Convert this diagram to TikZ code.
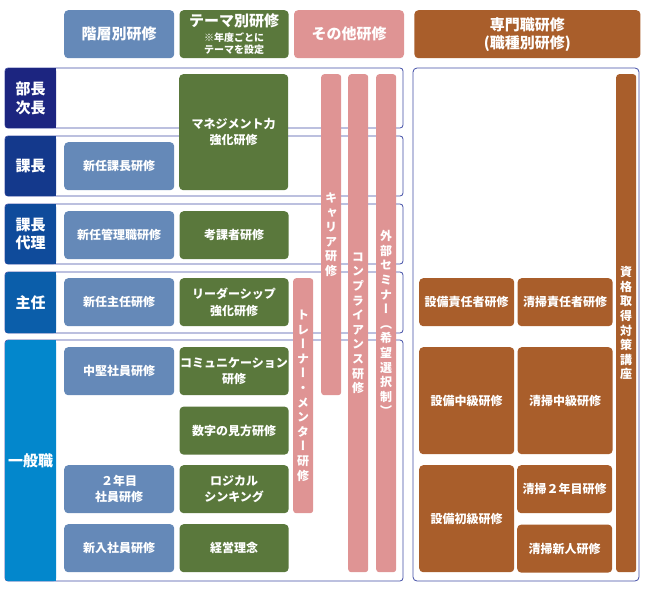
\documentclass[tikz,border=0pt]{standalone}
\usepackage{fontspec}
\setmainfont{Noto Sans CJK JP}
\newfontfamily\tatefont{Noto Sans CJK JP}[RawFeature=+vert]
\usetikzlibrary{positioning}
\definecolor{kaisoblue}{RGB}{101,137,184}
\definecolor{themegreen}{RGB}{90,120,60}
\definecolor{sonotapink}{RGB}{223,148,148}
\definecolor{senmonbrown}{RGB}{169,94,43}
\definecolor{bandline}{RGB}{64,76,165}
\definecolor{buchoc}{RGB}{28,37,128}
\definecolor{kachoc}{RGB}{20,57,140}
\definecolor{dairic}{RGB}{15,75,155}
\definecolor{shuninc}{RGB}{11,94,170}
\definecolor{ippanc}{RGB}{3,135,204}
\tikzset{
        box/.style={rounded corners=4pt, text=white, align=center, inner sep=0pt,
                font=\bfseries\fontsize{12}{16.5}\selectfont}, % white text on a filled box
        kaiso/.style={box, fill=kaisoblue, minimum width=110pt, minimum height=48pt},
        theme/.style={box, fill=themegreen, minimum width=109pt, minimum height=48pt},
        senmon/.style={box, fill=senmonbrown, minimum width=95pt, minimum height=48pt},
        bar/.style={box, fill=sonotapink, rounded corners=3pt, minimum width=20pt,
                font=\tatefont\bfseries\fontsize{12}{14.6}\selectfont}, % vertical text, one glyph per line
        header/.style={box, minimum height=48pt, font=\bfseries\fontsize{15}{18}\selectfont},
        rank/.style={box, rounded corners=3pt, minimum width=51pt, font=\bfseries\fontsize{15}{18.5}\selectfont},
        band/.style={draw=bandline, line width=0.8pt, rounded corners=3pt},
        }
\begin{document}
\begin{tikzpicture}[x=1pt, y=-1pt]
        \useasboundingbox (0,0) rectangle (647,591);
        % headers
        \node[header, fill=kaisoblue, minimum width=110pt, anchor=north west] (hKaiso) at (64,10) {階層別研修};
        \node[header, fill=themegreen, minimum width=109pt, right=5pt of hKaiso] (hTheme)
                {テーマ別研修\\[-3pt]{\fontsize{10}{12}\selectfont ※年度ごとに}\\[-6pt]{\fontsize{10}{12}\selectfont テーマを設定}};
        \node[header, fill=sonotapink, minimum width=110pt, right=5pt of hTheme] (hSonota) {その他研修};
        \node[header, fill=senmonbrown, minimum width=226pt, right=10pt of hSonota] (hSenmon) {専門職研修\\(職種別研修)};

        % bands of the ranks
        \foreach \ya/\yb/\c in {68/128/buchoc, 136/196/kachoc, 204/264/dairic, 272/333/shuninc, 340/581/ippanc} {
                \draw[band] (5,\ya) rectangle (403,\yb);
                \fill[\c] (30,\ya) rectangle (56,\yb);
        }
        \draw[band, rounded corners=4pt] (413,68) rectangle (639,581);

        \node[rank, fill=buchoc, minimum height=60pt, anchor=north west] (bucho) at (5,68) {部長\\次長};
        \node[rank, fill=kachoc, minimum height=60pt, anchor=north west] (kacho) at (5,136) {課長};
        \node[rank, fill=dairic, minimum height=60pt, anchor=north west] (dairi) at (5,204) {課長\\代理};
        \node[rank, fill=shuninc, minimum height=61pt, anchor=north west] (shunin) at (5,272) {主任};
        \node[rank, fill=ippanc, minimum height=241pt, anchor=north west] (ippan) at (5,340) {一般職};

        % kaisobetsu
        \node[kaiso, anchor=north west] (shinKacho) at (64,142) {新任課長研修};
        \node[kaiso, anchor=north west] (shinKanri) at (64,211) {新任管理職研修};
        \node[kaiso, anchor=north west] (shinShunin) at (64,278) {新任主任研修};
        \node[kaiso, anchor=north west] (chuken) at (64,347) {中堅社員研修};
        \node[kaiso, anchor=north west] (nenme) at (64,465) {２年目\\社員研修};
        \node[kaiso, anchor=north west] (shinnyu) at (64,524) {新入社員研修};

        % themebetsu
        \node[theme, minimum height=116pt, anchor=north west] (manage) at (179,74) {マネジメント力\\強化研修};
        \node[theme, right=5pt of shinKanri] (koka) {考課者研修};
        \node[theme, right=5pt of shinShunin] (leader) {リーダーシップ\\強化研修};
        \node[theme, right=5pt of chuken] (comm) {コミュニケーション\\研修};
        \node[theme, below=11pt of comm] (suji) {数字の見方研修};
        \node[theme, right=5pt of nenme] (logical) {ロジカル\\シンキング};
        \node[theme, right=5pt of shinnyu] (rinen) {経営理念};

        % sonota
        \node[bar, minimum height=321pt, anchor=north west] (career) at (321,74) {キ\\ャ\\リ\\ア\\研\\修};
        \node[bar, minimum height=498pt, anchor=north west] (comp) at (348,74) {コ\\ン\\プ\\ラ\\イ\\ア\\ン\\ス\\研\\修};
        \node[bar, minimum height=498pt, anchor=north west] (gaibu) at (376,74) {外\\部\\セ\\ミ\\ナ\\ー\\（\\希\\望\\選\\択\\制\\）};
        \node[bar, minimum height=235pt, anchor=north west] (trainer) at (293,278) {ト\\レ\\ー\\ナ\\ー\\・\\メ\\ン\\タ\\ー\\研\\修};

        % senmonshoku
        \node[bar, fill=senmonbrown, minimum height=498pt, anchor=north west] (shikaku) at (616,74) {資\\格\\取\\得\\対\\策\\講\\座};
        \node[senmon, anchor=north west] (setsuSekinin) at (419,278) {設備責任者研修};
        \node[senmon, right=3pt of setsuSekinin] (seiSekinin) {清掃責任者研修};
        \node[senmon, minimum height=107pt, anchor=north west] (setsuChu) at (419,347) {設備中級研修};
        \node[senmon, minimum height=107pt, right=3pt of setsuChu] (seiChu) {清掃中級研修};
        \node[senmon, minimum height=107pt, anchor=north west] (setsuSho) at (419,465) {設備初級研修};
        \node[senmon, anchor=north west] (seiNenme) at (517,465) {清掃２年目研修};
        \node[senmon, below=11pt of seiNenme] (seiShinjin) {清掃新人研修};
\end{tikzpicture}
\end{document}
